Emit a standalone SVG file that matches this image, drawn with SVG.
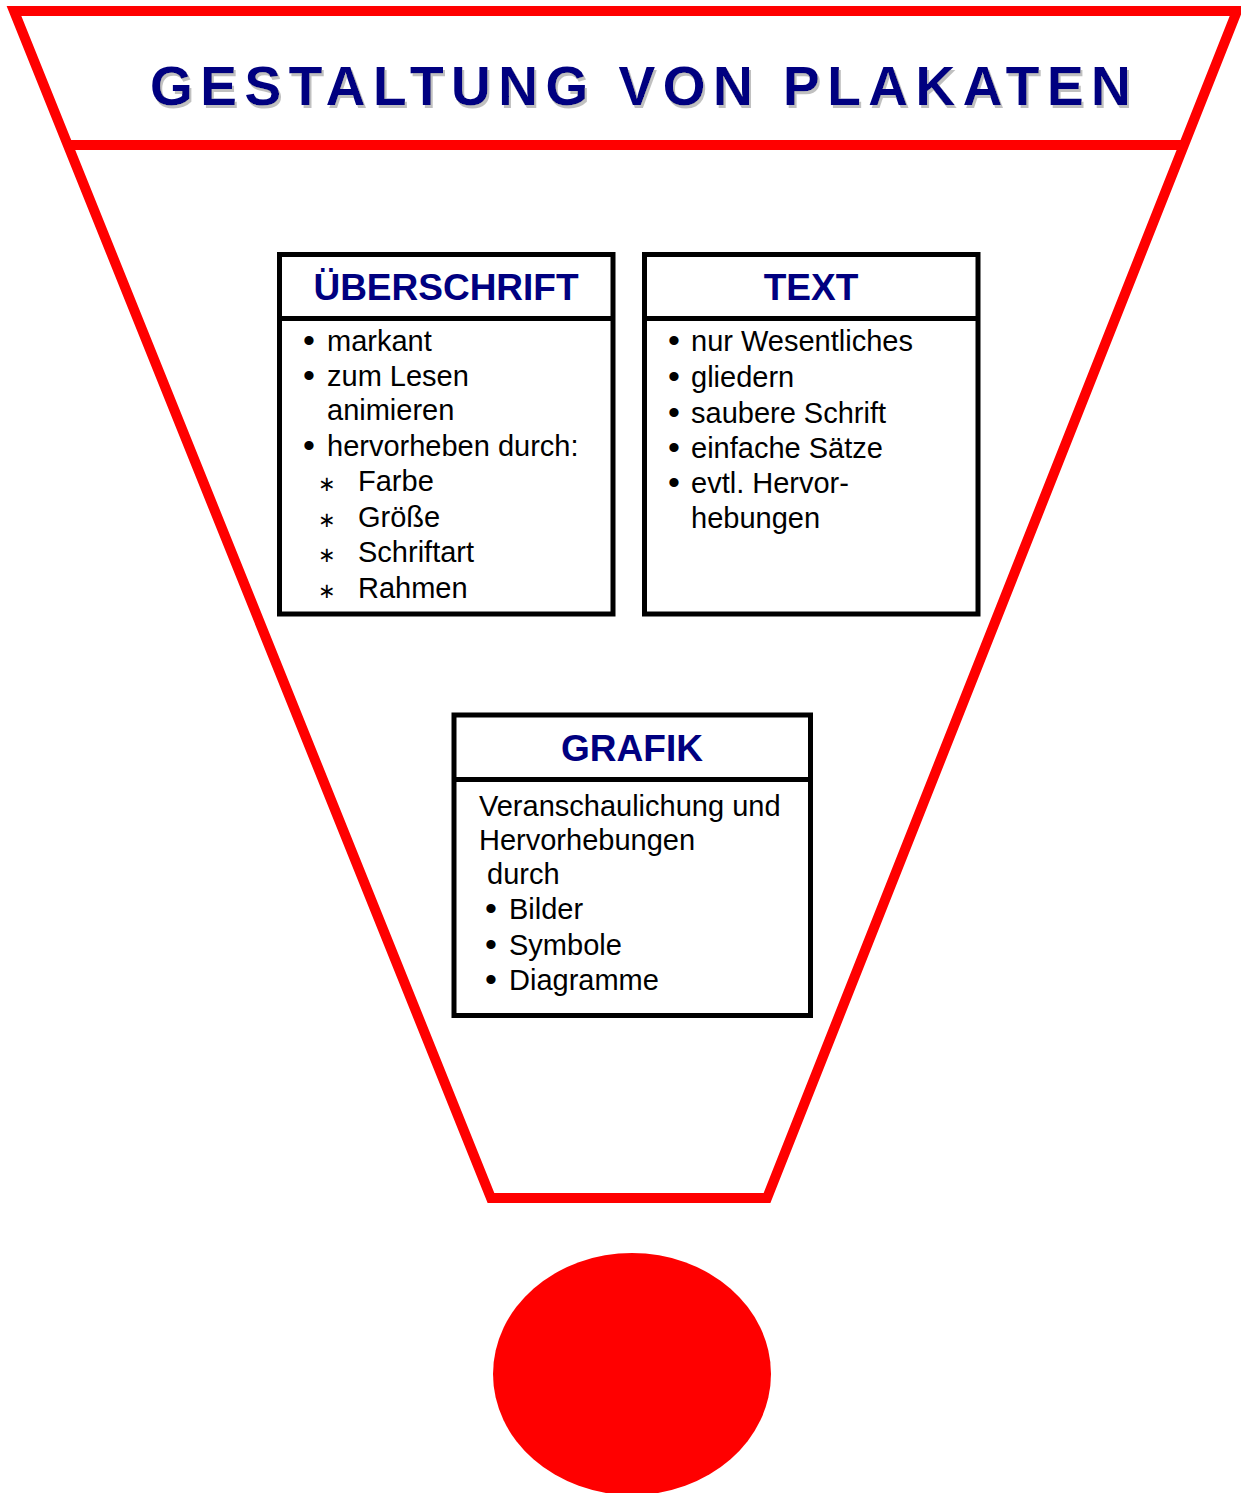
<svg xmlns="http://www.w3.org/2000/svg" width="1241" height="1493" viewBox="0 0 1241 1493">
<style>
.red{fill:none;stroke:#ff0000;stroke-width:10}
.box{fill:#ffffff;stroke:#000000;stroke-width:5}
.hd{font-family:"Liberation Sans",Arial,sans-serif;font-weight:bold;font-size:37px;fill:#000080;text-anchor:middle}
.bd{font-family:"Liberation Sans",Arial,sans-serif;font-size:29px;fill:#000000}
.bl{font-size:34px}
.st{font-family:"Liberation Sans","DejaVu Sans",sans-serif;font-size:21px}
.tt{font-family:"Liberation Sans",Arial,sans-serif;font-weight:bold;font-size:55px;letter-spacing:7.5px;fill:#000080}
</style>
<defs>
<filter id="shadow" x="-5%" y="-20%" width="110%" height="140%">
<feFlood flood-color="#c0c0c0"/>
<feComposite in2="SourceAlpha" operator="in"/>
<feOffset dx="2" dy="3" result="s"/>
<feMerge><feMergeNode in="s"/><feMergeNode in="SourceGraphic"/></feMerge>
</filter>
</defs>
<rect width="1241" height="1493" fill="#ffffff"/>
<g id="funnel">
<path class="red" d="M14,11 L1237,11 L767,1198 L491,1198 Z" stroke-linejoin="miter"/>
<line class="red" x1="70" y1="145" x2="1182" y2="145"/>
</g>
<g id="title">
<text class="tt" x="150" y="105" filter="url(#shadow)">GESTALTUNG VON PLAKATEN</text>
</g>
<g id="ueberschrift">
<rect class="box" x="279.5" y="254.5" width="333.5" height="359.5"/>
<line x1="279.5" y1="318.5" x2="613" y2="318.5" stroke="#000" stroke-width="5"/>
<text class="hd" x="446" y="300">ÜBERSCHRIFT</text>
<text class="bd" y="351"><tspan class="bl" x="303" dy="1">•</tspan><tspan x="327" dy="-1">markant</tspan></text>
<text class="bd" y="386"><tspan class="bl" x="303" dy="1">•</tspan><tspan x="327" dy="-1">zum Lesen</tspan></text>
<text class="bd" x="327" y="420">animieren</text>
<text class="bd" y="456"><tspan class="bl" x="303" dy="1">•</tspan><tspan x="327" dy="-1">hervorheben durch:</tspan></text>
<text class="bd" y="491"><tspan class="st" x="318">∗</tspan><tspan x="358">Farbe</tspan></text>
<text class="bd" y="527"><tspan class="st" x="318">∗</tspan><tspan x="358">Größe</tspan></text>
<text class="bd" y="562"><tspan class="st" x="318">∗</tspan><tspan x="358">Schriftart</tspan></text>
<text class="bd" y="598"><tspan class="st" x="318">∗</tspan><tspan x="358">Rahmen</tspan></text>
</g>
<g id="text">
<rect class="box" x="644.5" y="254.5" width="333.5" height="359.5"/>
<line x1="644.5" y1="318.5" x2="978" y2="318.5" stroke="#000" stroke-width="5"/>
<text class="hd" x="811" y="300">TEXT</text>
<text class="bd" y="351"><tspan class="bl" x="668" dy="1">•</tspan><tspan x="691" dy="-1">nur Wesentliches</tspan></text>
<text class="bd" y="387"><tspan class="bl" x="668" dy="1">•</tspan><tspan x="691" dy="-1">gliedern</tspan></text>
<text class="bd" y="423"><tspan class="bl" x="668" dy="1">•</tspan><tspan x="691" dy="-1">saubere Schrift</tspan></text>
<text class="bd" y="458"><tspan class="bl" x="668" dy="1">•</tspan><tspan x="691" dy="-1">einfache Sätze</tspan></text>
<text class="bd" y="493"><tspan class="bl" x="668" dy="1">•</tspan><tspan x="691" dy="-1">evtl. Hervor-</tspan></text>
<text class="bd" x="691" y="528">hebungen</text>
</g>
<g id="grafik">
<rect class="box" x="454" y="715" width="356.5" height="300.5"/>
<line x1="454" y1="779.5" x2="810.5" y2="779.5" stroke="#000" stroke-width="5"/>
<text class="hd" x="632" y="761">GRAFIK</text>
<text class="bd" x="479" y="816">Veranschaulichung und</text>
<text class="bd" x="479" y="850">Hervorhebungen</text>
<text class="bd" x="487" y="884">durch</text>
<text class="bd" y="919"><tspan class="bl" x="485" dy="1">•</tspan><tspan x="509" dy="-1">Bilder</tspan></text>
<text class="bd" y="955"><tspan class="bl" x="485" dy="1">•</tspan><tspan x="509" dy="-1">Symbole</tspan></text>
<text class="bd" y="990"><tspan class="bl" x="485" dy="1">•</tspan><tspan x="509" dy="-1">Diagramme</tspan></text>
</g>
<g id="dot">
<ellipse cx="632" cy="1374" rx="139" ry="121" fill="#ff0000"/>
</g>
<g id="connectors"/>
</svg>
